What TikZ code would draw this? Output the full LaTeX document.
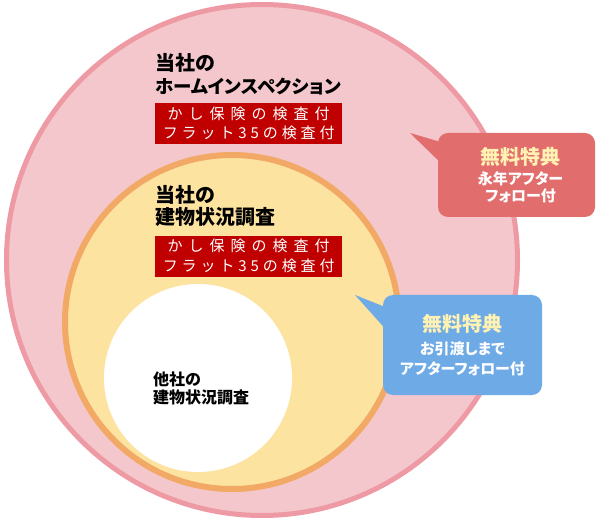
\documentclass[tikz,border=0pt]{standalone}
\usepackage{fontspec}
\setmainfont{Noto Sans CJK JP}[RawFeature=+palt]
\newfontfamily\tagfont{Noto Sans CJK JP}
\usetikzlibrary{positioning}

\definecolor{outerfill}{HTML}{F4C7CC}
\definecolor{outerline}{HTML}{EE9AA4}
\definecolor{midfill}{HTML}{FDE3A0}
\definecolor{midline}{HTML}{F1A965}
\definecolor{tagred}{HTML}{C00000}
\definecolor{giftred}{HTML}{E26D6D}
\definecolor{giftblue}{HTML}{6EABE6}
\definecolor{giftyellow}{HTML}{FFF2B3}

\begin{document}
\begin{tikzpicture}[x=1pt, y=-1pt,
    ring/.style={circle, inner sep=0pt},
    heading/.style={anchor=north west, inner sep=0pt, align=left,
                font=\bfseries\fontsize{20}{22}\selectfont},
    redtag/.style={fill=tagred, text=white, inner sep=0pt, minimum width=187pt,
                minimum height=41pt, align=center, font=\tagfont\fontsize{15}{19}\selectfont},
    callout/.style={rounded corners=10pt, inner sep=0pt, align=center, text=white}]

    \useasboundingbox (0,0) rectangle (600,521);

    \node[ring, fill=outerfill, draw=outerline, line width=5pt, minimum size=511pt] (home) at (262,260) {};
    \node[ring, fill=midfill, draw=midline, line width=6pt, minimum size=334pt] (survey) at (232,322) {};
    \node[ring, fill=white, minimum size=188pt] (others) at (198,378) {};

    \node[heading] (hometitle) at (155,53)
        {当社の\\[1pt]\fontsize{18.5}{22}\selectfont ホームインスペクション};
    \node[redtag, below right=8pt and 0pt of hometitle.south west] (hometag)
        {\addfontfeature{LetterSpace=40}かし保険の検査付\\
         \addfontfeature{LetterSpace=26}フラット35の検査付};

    \node[heading] (surveytitle) at (155,185) {当社の\\建物状況調査};
    \node[redtag, font=\tagfont\fontsize{15}{20}\selectfont,
          below right=9pt and 0pt of surveytitle.south west] (surveytag)
        {\addfontfeature{LetterSpace=40}かし保険の検査付\\
         \addfontfeature{LetterSpace=26}フラット35の検査付};

    \node[heading, font=\bfseries\fontsize{16}{18}\selectfont] (othertitle) at (153,372)
        {他社の\\建物状況調査};

    \coordinate (redtip) at (410,133);
    \coordinate (redbaseA) at (444,143);
    \coordinate (redbaseB) at (444,166);
    \fill[giftred] (redtip) -- (redbaseA) -- (redbaseB) -- cycle;
    \node[callout, fill=giftred, minimum width=157pt, minimum height=84pt,
          font=\bfseries\fontsize{15}{17}\selectfont] (redgift) at (516.5,175)
        {\textcolor{giftyellow}{\fontsize{20}{22}\selectfont\hspace*{8pt}無料特典}\\[3pt]
         \hspace*{8pt}永年アフター\\\hspace*{8pt}フォロー付};

    \coordinate (bluetip) at (355,295);
    \coordinate (bluebaseA) at (390,309);
    \coordinate (bluebaseB) at (390,334);
    \fill[giftblue] (bluetip) -- (bluebaseA) -- (bluebaseB) -- cycle;
    \node[callout, fill=giftblue, minimum width=159pt, minimum height=100pt,
          font=\bfseries\fontsize{15}{20}\selectfont] (bluegift) at (462.5,345)
        {\textcolor{giftyellow}{\fontsize{20}{22}\selectfont 無料特典}\\[3pt]お引渡しまで\\アフターフォロー付};
\end{tikzpicture}
\end{document}
